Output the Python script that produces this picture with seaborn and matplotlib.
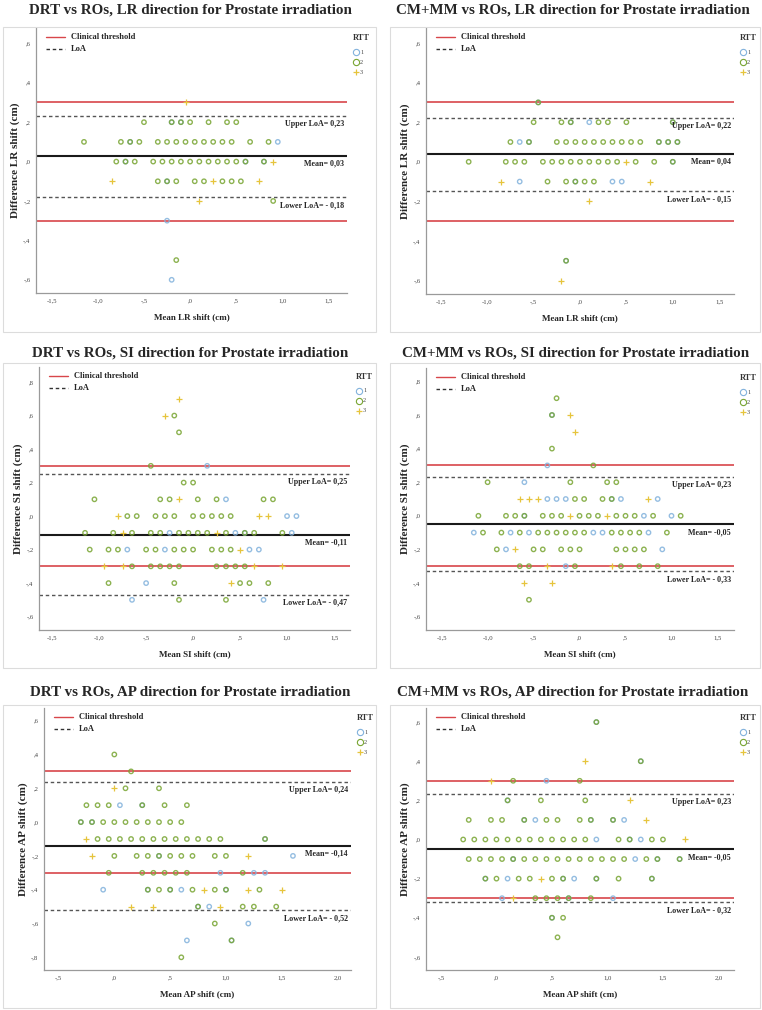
import matplotlib
matplotlib.use("Agg")
import matplotlib.pyplot as plt
from matplotlib.patches import Rectangle
import pandas as pd
import seaborn as sns

# panel order: DRT LR, CM+MM LR, DRT SI, CM+MM SI, DRT AP, CM+MM AP
titles = ["DRT vs ROs, LR direction for Prostate irradiation",
          "CM+MM vs ROs, LR direction for Prostate irradiation",
          "DRT vs ROs, SI direction for Prostate irradiation",
          "CM+MM vs ROs, SI direction for Prostate irradiation",
          "DRT vs ROs, AP direction for Prostate irradiation",
          "CM+MM vs ROs, AP direction for Prostate irradiation"]
x_labels = ["Mean LR shift (cm)", "Mean LR shift (cm)", "Mean SI shift (cm)",
            "Mean SI shift (cm)", "Mean AP shift (cm)", "Mean AP shift (cm)"]
y_labels = ["Difference LR shift (cm)", "Difference LR shift (cm)", "Difference SI shift (cm)",
            "Difference SI shift (cm)", "Difference AP shift (cm)", "Difference AP shift (cm)"]
mean_diff = [0.03, 0.04, -0.11, -0.05, -0.14, -0.05]
upper_loa = [0.23, 0.22, 0.25, 0.23, 0.24, 0.23]
lower_loa = [-0.18, -0.15, -0.47, -0.33, -0.52, -0.32]
mean_text = ["Mean= 0,03", "Mean= 0,04", "Mean= -0,11", "Mean= -0,05", "Mean= -0,14", "Mean= -0,05"]
upper_text = ["Upper LoA= 0,23", "Upper LoA= 0,22", "Upper LoA= 0,25",
              "Upper LoA= 0,23", "Upper LoA= 0,24", "Upper LoA= 0,23"]
lower_text = ["Lower LoA= - 0,18", "Lower LoA= - 0,15", "Lower LoA= - 0,47",
              "Lower LoA= - 0,33", "Lower LoA= - 0,52", "Lower LoA= - 0,32"]
threshold = 0.3
x_ticks_shift = [-1.5, -1.0, -0.5, 0.0, 0.5, 1.0, 1.5]
x_ticks_ap = [-0.5, 0.0, 0.5, 1.0, 1.5, 2.0]
y_ticks_lr = [-0.6, -0.4, -0.2, 0.0, 0.2, 0.4, 0.6]
y_ticks_si = [-0.6, -0.4, -0.2, 0.0, 0.2, 0.4, 0.6, 0.8]
y_ticks_ap = [-0.8, -0.6, -0.4, -0.2, 0.0, 0.2, 0.4, 0.6]
rtt_levels = ["1", "2", "3"]

# (mean shift, difference) pairs
drt_lr_rtt1 = [(-0.1, 0.2), (-0.2, 0.2), (0.95, 0.1), (-0.65, 0.1), (0.6, 0.0), (0.8, 0.0),
               (-0.7, 0.0), (-0.25, -0.1), (-0.25, -0.3), (-0.2, -0.6)]
drt_lr_rtt2 = [(-0.5, 0.2), (-0.2, 0.2), (-0.1, 0.2), (0.0, 0.2), (0.2, 0.2), (0.4, 0.2), (0.5, 0.2),
               (-1.15, 0.1), (-0.75, 0.1), (-0.65, 0.1), (-0.55, 0.1), (-0.35, 0.1), (-0.25, 0.1),
               (-0.15, 0.1), (-0.05, 0.1), (0.05, 0.1), (0.15, 0.1), (0.25, 0.1), (0.35, 0.1),
               (0.45, 0.1), (0.65, 0.1), (0.85, 0.1),
               (-0.8, 0.0), (-0.7, 0.0), (-0.6, 0.0), (-0.4, 0.0), (-0.3, 0.0), (-0.2, 0.0), (-0.1, 0.0),
               (0.0, 0.0), (0.1, 0.0), (0.2, 0.0), (0.3, 0.0), (0.4, 0.0), (0.5, 0.0), (0.6, 0.0),
               (0.8, 0.0),
               (-0.35, -0.1), (-0.25, -0.1), (-0.15, -0.1), (0.05, -0.1), (0.15, -0.1), (0.35, -0.1),
               (0.45, -0.1), (0.55, -0.1), (0.9, -0.2), (-0.15, -0.5)]
drt_lr_rtt3 = [(-0.05, 0.3), (0.9, 0.0), (-0.85, -0.1), (0.25, -0.1), (0.75, -0.1), (0.1, -0.2)]

cm_lr_rtt1 = [(-0.45, 0.3), (-0.1, 0.2), (0.1, 0.2), (1.0, 0.2), (-0.65, 0.1), (-0.55, 0.1),
              (0.85, 0.1), (0.95, 0.1), (1.05, 0.1), (1.0, 0.0), (-0.65, -0.1), (-0.05, -0.1),
              (0.35, -0.1), (0.45, -0.1), (-0.15, -0.5)]
cm_lr_rtt2 = [(-0.45, 0.3), (-0.5, 0.2), (-0.2, 0.2), (-0.1, 0.2), (0.2, 0.2), (0.3, 0.2), (0.5, 0.2),
              (1.0, 0.2),
              (-0.75, 0.1), (-0.55, 0.1), (-0.25, 0.1), (-0.15, 0.1), (-0.05, 0.1), (0.05, 0.1),
              (0.15, 0.1), (0.25, 0.1), (0.35, 0.1), (0.45, 0.1), (0.55, 0.1), (0.65, 0.1),
              (0.85, 0.1), (0.95, 0.1), (1.05, 0.1),
              (-1.2, 0.0), (-0.8, 0.0), (-0.7, 0.0), (-0.6, 0.0), (-0.4, 0.0), (-0.3, 0.0), (-0.2, 0.0),
              (-0.1, 0.0), (0.0, 0.0), (0.1, 0.0), (0.2, 0.0), (0.3, 0.0), (0.4, 0.0), (0.6, 0.0),
              (0.8, 0.0), (1.0, 0.0),
              (-0.35, -0.1), (-0.15, -0.1), (-0.05, -0.1), (0.05, -0.1), (0.15, -0.1), (-0.15, -0.5)]
cm_lr_rtt3 = [(0.5, 0.0), (-0.85, -0.1), (0.75, -0.1), (0.1, -0.2), (-0.2, -0.6)]

drt_si_rtt1 = [(0.15, 0.3), (0.35, 0.1), (1.0, 0.0), (1.1, 0.0), (-0.25, -0.1), (0.45, -0.1),
               (0.55, -0.1), (1.05, -0.1), (-0.7, -0.2), (-0.3, -0.2), (0.6, -0.2), (0.7, -0.2),
               (-0.5, -0.4), (-0.65, -0.5), (0.75, -0.5)]
drt_si_rtt2 = [(-0.2, 0.6), (-0.15, 0.5), (-0.45, 0.3), (-0.1, 0.2), (0.0, 0.2),
               (-1.05, 0.1), (-0.35, 0.1), (-0.25, 0.1), (0.05, 0.1), (0.25, 0.1), (0.75, 0.1),
               (0.85, 0.1),
               (-0.7, 0.0), (-0.6, 0.0), (-0.4, 0.0), (-0.3, 0.0), (-0.2, 0.0), (0.0, 0.0), (0.1, 0.0),
               (0.2, 0.0), (0.3, 0.0), (0.4, 0.0),
               (-1.15, -0.1), (-0.85, -0.1), (-0.65, -0.1), (-0.45, -0.1), (-0.35, -0.1),
               (-0.15, -0.1), (-0.05, -0.1), (0.05, -0.1), (0.15, -0.1), (0.35, -0.1), (0.55, -0.1),
               (0.65, -0.1), (0.95, -0.1),
               (-1.1, -0.2), (-0.9, -0.2), (-0.8, -0.2), (-0.5, -0.2), (-0.4, -0.2), (-0.2, -0.2),
               (-0.1, -0.2), (0.0, -0.2), (0.2, -0.2), (0.3, -0.2), (0.4, -0.2),
               (-0.65, -0.3), (-0.45, -0.3), (-0.35, -0.3), (-0.25, -0.3), (-0.15, -0.3),
               (0.25, -0.3), (0.35, -0.3), (0.45, -0.3), (0.55, -0.3),
               (-0.9, -0.4), (-0.2, -0.4), (0.5, -0.4), (0.6, -0.4), (0.8, -0.4),
               (-0.15, -0.5), (0.35, -0.5)]
drt_si_rtt3 = [(-0.15, 0.7), (-0.3, 0.6), (-0.15, 0.1), (-0.8, 0.0), (0.7, 0.0), (0.8, 0.0),
               (-0.75, -0.1), (0.25, -0.1), (0.5, -0.2), (-0.95, -0.3), (-0.75, -0.3), (0.65, -0.3),
               (0.95, -0.3), (0.4, -0.4)]

cm_si_rtt1 = [(-0.3, 0.6), (-0.35, 0.3), (-0.6, 0.2), (-0.35, 0.1), (-0.25, 0.1), (-0.15, 0.1),
              (0.35, 0.1), (0.45, 0.1), (0.85, 0.1), (-0.6, 0.0), (0.7, 0.0), (1.0, 0.0),
              (-1.15, -0.1), (-0.75, -0.1), (-0.55, -0.1), (0.15, -0.1), (0.25, -0.1), (0.75, -0.1),
              (-0.8, -0.2), (0.9, -0.2), (-0.15, -0.3)]
cm_si_rtt2 = [(-0.25, 0.7), (-0.3, 0.6), (-0.3, 0.4), (0.15, 0.3),
              (-1.0, 0.2), (-0.1, 0.2), (0.3, 0.2), (0.4, 0.2),
              (-0.05, 0.1), (0.05, 0.1), (0.25, 0.1), (0.35, 0.1),
              (-1.1, 0.0), (-0.8, 0.0), (-0.7, 0.0), (-0.6, 0.0), (-0.4, 0.0), (-0.3, 0.0), (-0.2, 0.0),
              (0.0, 0.0), (0.1, 0.0), (0.2, 0.0), (0.4, 0.0), (0.5, 0.0), (0.6, 0.0), (0.8, 0.0),
              (1.1, 0.0),
              (-1.05, -0.1), (-0.85, -0.1), (-0.65, -0.1), (-0.45, -0.1), (-0.35, -0.1),
              (-0.25, -0.1), (-0.15, -0.1), (-0.05, -0.1), (0.05, -0.1), (0.35, -0.1), (0.45, -0.1),
              (0.55, -0.1), (0.65, -0.1), (0.95, -0.1),
              (-0.9, -0.2), (-0.5, -0.2), (-0.4, -0.2), (-0.2, -0.2), (-0.1, -0.2), (0.0, -0.2),
              (0.4, -0.2), (0.5, -0.2), (0.6, -0.2), (0.7, -0.2),
              (-0.65, -0.3), (-0.55, -0.3), (-0.05, -0.3), (0.45, -0.3), (0.65, -0.3), (0.85, -0.3),
              (-0.55, -0.5)]
cm_si_rtt3 = [(-0.1, 0.6), (-0.05, 0.5), (-0.65, 0.1), (-0.55, 0.1), (-0.45, 0.1), (0.75, 0.1),
              (-0.1, 0.0), (0.3, 0.0), (-0.7, -0.2), (-0.35, -0.3), (0.35, -0.3), (-0.6, -0.4),
              (-0.3, -0.4)]

drt_ap_rtt1 = [(0.05, 0.1), (0.25, 0.1), (-0.3, 0.0), (-0.2, 0.0), (1.35, -0.1), (0.4, -0.2),
               (1.6, -0.2), (0.95, -0.3), (1.25, -0.3), (1.35, -0.3), (-0.1, -0.4), (0.3, -0.4),
               (0.5, -0.4), (0.6, -0.4), (1.0, -0.4), (0.75, -0.5), (0.85, -0.5), (1.2, -0.6),
               (0.65, -0.7), (1.05, -0.7)]
drt_ap_rtt2 = [(0.0, 0.4), (0.15, 0.3), (0.1, 0.2), (0.4, 0.2),
               (-0.25, 0.1), (-0.15, 0.1), (-0.05, 0.1), (0.25, 0.1), (0.45, 0.1), (0.65, 0.1),
               (-0.3, 0.0), (-0.2, 0.0), (-0.1, 0.0), (0.0, 0.0), (0.1, 0.0), (0.2, 0.0), (0.3, 0.0),
               (0.4, 0.0), (0.5, 0.0), (0.6, 0.0),
               (-0.15, -0.1), (-0.05, -0.1), (0.05, -0.1), (0.15, -0.1), (0.25, -0.1), (0.35, -0.1),
               (0.45, -0.1), (0.55, -0.1), (0.65, -0.1), (0.75, -0.1), (0.85, -0.1), (0.95, -0.1),
               (1.35, -0.1),
               (0.0, -0.2), (0.2, -0.2), (0.3, -0.2), (0.4, -0.2), (0.5, -0.2), (0.6, -0.2),
               (0.7, -0.2), (0.9, -0.2), (1.0, -0.2),
               (-0.05, -0.3), (0.25, -0.3), (0.35, -0.3), (0.45, -0.3), (0.55, -0.3), (0.65, -0.3),
               (1.15, -0.3),
               (0.3, -0.4), (0.4, -0.4), (0.5, -0.4), (0.7, -0.4), (0.9, -0.4), (1.0, -0.4),
               (1.3, -0.4),
               (0.75, -0.5), (1.15, -0.5), (1.25, -0.5), (1.45, -0.5), (0.9, -0.6), (1.05, -0.7),
               (0.6, -0.8)]
drt_ap_rtt3 = [(0.0, 0.2), (-0.25, -0.1), (-0.2, -0.2), (1.2, -0.2), (0.8, -0.4), (1.2, -0.4),
               (1.5, -0.4), (0.15, -0.5), (0.35, -0.5), (0.95, -0.5)]

cm_ap_rtt1 = [(0.9, 0.6), (1.3, 0.4), (0.45, 0.3), (0.1, 0.2), (0.25, 0.1), (0.35, 0.1),
              (0.85, 0.1), (1.05, 0.1), (1.15, 0.1), (0.9, 0.0), (1.2, 0.0), (1.3, 0.0),
              (0.15, -0.1), (1.25, -0.1), (1.45, -0.1), (1.65, -0.1), (-0.1, -0.2), (0.1, -0.2),
              (0.6, -0.2), (0.7, -0.2), (0.9, -0.2), (1.4, -0.2), (0.05, -0.3), (0.65, -0.3),
              (1.05, -0.3), (0.5, -0.4)]
cm_ap_rtt2 = [(0.9, 0.6), (1.3, 0.4), (0.15, 0.3), (0.75, 0.3), (0.1, 0.2), (0.4, 0.2), (0.8, 0.2),
              (-0.25, 0.1), (-0.05, 0.1), (0.05, 0.1), (0.25, 0.1), (0.45, 0.1), (0.55, 0.1),
              (0.75, 0.1), (0.85, 0.1), (1.05, 0.1),
              (-0.3, 0.0), (-0.2, 0.0), (-0.1, 0.0), (0.0, 0.0), (0.1, 0.0), (0.2, 0.0), (0.3, 0.0),
              (0.4, 0.0), (0.5, 0.0), (0.6, 0.0), (0.7, 0.0), (0.8, 0.0), (1.1, 0.0), (1.2, 0.0),
              (1.4, 0.0), (1.5, 0.0),
              (-0.25, -0.1), (-0.15, -0.1), (-0.05, -0.1), (0.05, -0.1), (0.15, -0.1), (0.25, -0.1),
              (0.35, -0.1), (0.45, -0.1), (0.55, -0.1), (0.65, -0.1), (0.75, -0.1), (0.85, -0.1),
              (0.95, -0.1), (1.05, -0.1), (1.15, -0.1), (1.35, -0.1), (1.45, -0.1), (1.65, -0.1),
              (-0.1, -0.2), (0.0, -0.2), (0.2, -0.2), (0.3, -0.2), (0.5, -0.2), (0.6, -0.2),
              (0.9, -0.2), (1.1, -0.2), (1.4, -0.2),
              (0.35, -0.3), (0.45, -0.3), (0.55, -0.3), (0.65, -0.3), (0.85, -0.3),
              (0.5, -0.4), (0.6, -0.4), (0.55, -0.5)]
cm_ap_rtt3 = [(0.8, 0.4), (-0.05, 0.3), (1.2, 0.2), (1.35, 0.1), (1.7, 0.0), (0.4, -0.2),
              (0.15, -0.3)]

panel_points = [(drt_lr_rtt1, drt_lr_rtt2, drt_lr_rtt3), (cm_lr_rtt1, cm_lr_rtt2, cm_lr_rtt3),
                (drt_si_rtt1, drt_si_rtt2, drt_si_rtt3), (cm_si_rtt1, cm_si_rtt2, cm_si_rtt3),
                (drt_ap_rtt1, drt_ap_rtt2, drt_ap_rtt3), (cm_ap_rtt1, cm_ap_rtt2, cm_ap_rtt3)]
panel_xticks = [x_ticks_shift, x_ticks_shift, x_ticks_shift, x_ticks_shift, x_ticks_ap, x_ticks_ap]
panel_yticks = [y_ticks_lr, y_ticks_lr, y_ticks_si, y_ticks_si, y_ticks_ap, y_ticks_lr]

# layout (pixels): axes boxes, axis limits
axes_px = [(36, 347, 28, 293), (426, 734, 28, 294), (39, 350, 367, 630),
           (426, 734, 368, 630), (44, 351, 708, 970), (426, 734, 708, 970)]
xlims = [(-1.67, 1.70), (-1.66, 1.66), (-1.64, 1.67), (-1.67, 1.68), (-0.63, 2.12), (-0.635, 2.14)]
ylims = [(-0.667, 0.678), (-0.668, 0.676), (-0.68, 0.89), (-0.68, 0.88), (-0.875, 0.675), (-0.667, 0.672)]
title_px = [(190, 10), (573, 10), (190, 353), (576, 353), (190, 692), (573, 692)]
boxes_px = [(3, 376, 27, 332), (390, 760, 27, 332), (3, 376, 363, 668), (390, 760, 363, 668),
            (3, 376, 705, 1008), (390, 760, 705, 1008)]

rtt_colors = {"1": "#82b2dc", "2": "#78a532", "3": "#e6c43c"}
red = "#d8464a"
serif = ["Liberation Serif", "DejaVu Serif"]

sns.set_style("white")
plt.rcParams["font.family"] = serif

W, H = 762, 1010
fig = plt.figure(figsize=(W / 100, H / 100), dpi=100)


def spss_label(v):
    s = f"{v:.1f}".replace(".", ",")
    if s.startswith("0,"):
        s = s[1:]
    elif s.startswith("-0,"):
        s = "-" + s[2:]
    return s


for i in range(6):
    bl, br, bt, bb = boxes_px[i]
    fig.patches.append(Rectangle((bl / W, 1 - bb / H), (br - bl) / W, (bb - bt) / H,
                                 transform=fig.transFigure, fill=False, ec="#dcdcdc", lw=0.8))
    tx, ty = title_px[i]
    fig.text(tx / W, 1 - ty / H, titles[i], ha="center", va="center",
             fontsize=10.8, fontweight="bold", family=serif)

    l, r, t, b = axes_px[i]
    ax = fig.add_axes([l / W, 1 - b / H, (r - l) / W, (b - t) / H])
    ax.set_facecolor("none")

    frames = []
    for level, pts in zip(rtt_levels, panel_points[i]):
        frames.append(pd.DataFrame({"mean": [p[0] for p in pts], "diff": [p[1] for p in pts],
                                    "RTT": level}))
    df = pd.concat(frames, ignore_index=True)

    ax.axhline(threshold, color=red, lw=1.2, zorder=1)
    ax.axhline(-threshold, color=red, lw=1.2, zorder=1)
    ax.axhline(upper_loa[i], color="#555555", lw=1.0, ls=(0, (2.5, 2)), zorder=1)
    ax.axhline(lower_loa[i], color="#555555", lw=1.0, ls=(0, (2.5, 2)), zorder=1)
    ax.axhline(mean_diff[i], color="#1a1a1a", lw=1.5, zorder=1)

    for level in ["1", "2"]:
        sub = df[df["RTT"] == level]
        sns.scatterplot(data=sub, x="mean", y="diff", ax=ax, marker="o", s=10,
                        facecolor="none", edgecolor=rtt_colors[level], linewidth=1.0,
                        alpha=0.85, zorder=3, legend=False)
    sub = df[df["RTT"] == "3"]
    sns.scatterplot(data=sub, x="mean", y="diff", ax=ax, marker="+", s=16,
                    color=rtt_colors["3"], linewidth=0.9, zorder=4, legend=False)

    ax.set_xlim(xlims[i])
    ax.set_ylim(ylims[i])
    ax.set_xticks(panel_xticks[i])
    ax.set_xticklabels([spss_label(v) for v in panel_xticks[i]])
    ax.set_yticks(panel_yticks[i])
    ax.set_yticklabels([spss_label(v) for v in panel_yticks[i]])
    ax.tick_params(length=0, labelsize=4.8, labelcolor="#444444", pad=4)
    for side in ["top", "right"]:
        ax.spines[side].set_visible(False)
    for side in ["left", "bottom"]:
        ax.spines[side].set_color("#9a9a9a")
        ax.spines[side].set_linewidth(0.9)

    w_px, h_px = r - l, b - t
    ax.set_xlabel(x_labels[i], fontsize=6.5, fontweight="bold", va="center")
    ax.set_ylabel(y_labels[i], fontsize=8, fontweight="bold", va="center")
    ax.xaxis.set_label_coords(0.5, -24 / h_px)
    ax.yaxis.set_label_coords(-21 / w_px, 0.5)

    # reference-line labels
    for val, txt in [(upper_loa[i], upper_text[i]), (mean_diff[i], mean_text[i]),
                     (lower_loa[i], lower_text[i])]:
        ax.annotate(txt, xy=(1, val), xycoords=ax.get_yaxis_transform(),
                    xytext=(-3, -8), textcoords="offset pixels", ha="right", va="center",
                    fontsize=5.8, fontweight="bold", annotation_clip=False, zorder=5)

    # line legend, top left
    for k, (lab, ls, col) in enumerate([("Clinical threshold", "-", red),
                                        ("LoA", (0, (2.5, 2)), "#333333")]):
        y0 = 1 - (9 + 12 * k) / h_px
        ax.plot([10 / w_px, 29 / w_px], [y0, y0], transform=ax.transAxes, color=col,
                ls=ls, lw=1.0, clip_on=False)
        ax.text(35 / w_px, y0, lab, transform=ax.transAxes, ha="left", va="center",
                fontsize=6, fontweight="bold")

    # RTT legend, right of the axes
    ax.text(1 + 14 / w_px, 1 - 10 / h_px, "RTT", transform=ax.transAxes, ha="center",
            va="center", fontsize=6, fontweight="bold", color="#333333")
    for k, level in enumerate(rtt_levels):
        yk = 1 - (24 + 10 * k) / h_px
        if level == "3":
            ax.plot([1 + 9 / w_px], [yk], transform=ax.transAxes, marker="+", ms=5,
                    color=rtt_colors[level], mew=0.9, clip_on=False)
        else:
            ax.plot([1 + 9 / w_px], [yk], transform=ax.transAxes, marker="o", ms=4.5,
                    mfc="none", mec=rtt_colors[level], mew=0.8, clip_on=False)
        ax.text(1 + 13 / w_px, yk, level, transform=ax.transAxes, ha="left", va="center",
                fontsize=4.5, color="#444444")

fig.savefig("out.png", dpi=100)
